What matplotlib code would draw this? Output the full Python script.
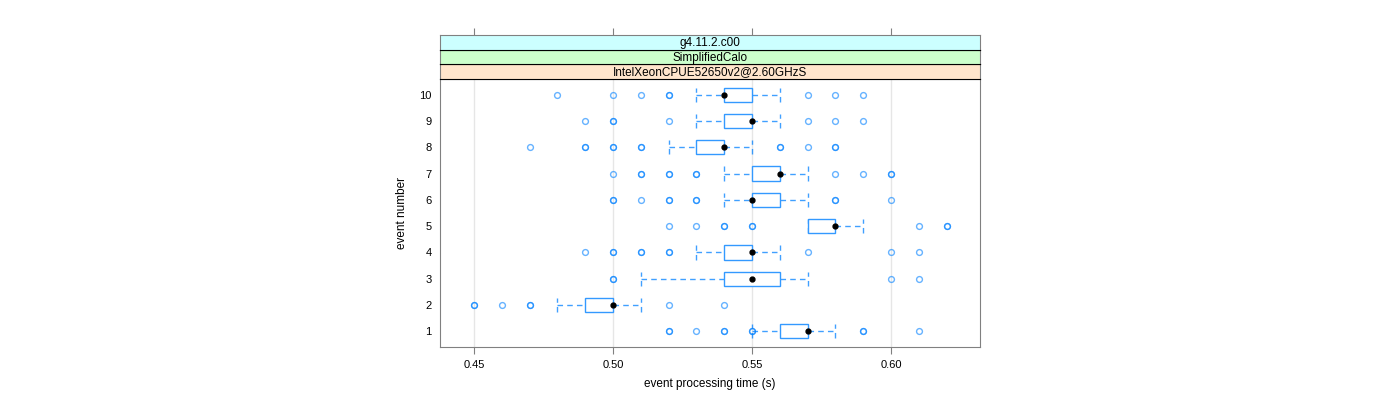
import matplotlib
matplotlib.use("Agg")
import matplotlib.pyplot as plt
from matplotlib.patches import Rectangle

plt.rcParams['font.family'] = ['Liberation Sans', 'DejaVu Sans']

events = [1, 2, 3, 4, 5, 6, 7, 8, 9, 10]
whisk_lo = [0.55, 0.48, 0.51, 0.53, 0.57, 0.54, 0.54, 0.52, 0.53, 0.53]
q1 = [0.56, 0.49, 0.54, 0.54, 0.57, 0.55, 0.55, 0.53, 0.54, 0.54]
median = [0.57, 0.50, 0.55, 0.55, 0.58, 0.55, 0.56, 0.54, 0.55, 0.54]
q3 = [0.57, 0.50, 0.56, 0.55, 0.58, 0.56, 0.56, 0.54, 0.55, 0.55]
whisk_hi = [0.58, 0.51, 0.57, 0.56, 0.59, 0.57, 0.57, 0.55, 0.56, 0.56]
# repeated values are overlapping points (drawn darker)
outliers = [
    [0.52, 0.52, 0.53, 0.54, 0.54, 0.55, 0.55, 0.59, 0.59, 0.61],
    [0.45, 0.45, 0.46, 0.47, 0.47, 0.52, 0.54],
    [0.50, 0.50, 0.60, 0.61],
    [0.49, 0.50, 0.50, 0.51, 0.51, 0.52, 0.52, 0.57, 0.60, 0.61],
    [0.52, 0.53, 0.54, 0.54, 0.55, 0.55, 0.61, 0.62, 0.62],
    [0.50, 0.50, 0.51, 0.52, 0.52, 0.53, 0.53, 0.58, 0.58, 0.60],
    [0.50, 0.51, 0.51, 0.52, 0.52, 0.53, 0.53, 0.58, 0.59, 0.60, 0.60],
    [0.47, 0.49, 0.49, 0.50, 0.50, 0.51, 0.51, 0.56, 0.56, 0.57, 0.58, 0.58],
    [0.49, 0.50, 0.50, 0.52, 0.57, 0.58, 0.59],
    [0.48, 0.50, 0.51, 0.52, 0.52, 0.57, 0.58, 0.59],
]
xticks = [0.45, 0.50, 0.55, 0.60]
strips = ['IntelXeonCPUE52650v2@2.60GHzS', 'SimplifiedCalo', 'g4.11.2.c00']
strip_cols = ['#ffe5cc', '#ccffcc', '#ccffff']

blue = '#0080ff'
frame = '#808080'

fig = plt.figure(figsize=(14, 4), dpi=100)
ax = fig.add_axes([440 / 1400, 53 / 400, 540 / 1400, 268 / 400])
ax.set_xlim(0.4378, 0.632)
ax.set_ylim(0.4, 10.6)

for x in xticks:
    ax.axvline(x, color='#e6e6e6', lw=1, zorder=0)

h = 0.27
dash = (0, (4, 3))
for i, y in enumerate(events):
    ax.plot([whisk_lo[i], q1[i]], [y, y], color=blue, lw=1, ls=dash, alpha=0.75, zorder=2)
    ax.plot([q3[i], whisk_hi[i]], [y, y], color=blue, lw=1, ls=dash, alpha=0.75, zorder=2)
    ax.plot([whisk_lo[i]] * 2, [y - h, y + h], color=blue, lw=1, ls=dash, alpha=0.75, zorder=2)
    ax.plot([whisk_hi[i]] * 2, [y - h, y + h], color=blue, lw=1, ls=dash, alpha=0.75, zorder=2)
    ax.add_patch(Rectangle((q1[i], y - h), q3[i] - q1[i], 2 * h,
                           facecolor='white', edgecolor='#3399ff', lw=1, zorder=3))
    ax.plot([median[i]], [y], 'o', color='black', ms=3.5, zorder=4)
    ax.plot(outliers[i], [y] * len(outliers[i]), 'o', mfc='none', mec=blue,
            mew=1, ms=4.2, alpha=0.6, ls='none', zorder=3)

ax.set_yticks(events)
ax.set_yticklabels([str(e) for e in events])
ax.set_xticks(xticks)
ax.set_xticklabels(['%.2f' % x for x in xticks])
ax.tick_params(axis='y', length=0, pad=6, labelsize=8)
ax.tick_params(axis='x', length=5, color=frame, pad=4, labelsize=8)
for s in ax.spines.values():
    s.set_color(frame)
ax.set_xlabel('event processing time (s)', fontsize=8.5, labelpad=6)
ax.set_ylabel('event number', fontsize=8.5, labelpad=8)

sh = 44 / 3 / 400
for k, (txt, col) in enumerate(zip(strips, strip_cols)):
    sax = fig.add_axes([440 / 1400, 321 / 400 + k * sh, 540 / 1400, sh])
    sax.set_facecolor(col)
    sax.set_xlim(ax.get_xlim())
    sax.set_yticks([])
    for s in sax.spines.values():
        s.set_color('black')
        s.set_linewidth(0.8)
    sax.spines['left'].set_color(frame)
    sax.spines['right'].set_color(frame)
    if k == 2:
        sax.spines['top'].set_color(frame)
        sax.set_xticks(xticks)
        sax.tick_params(axis='x', bottom=False, top=True, labelbottom=False,
                        length=5, color=frame)
    else:
        sax.set_xticks([])
    sax.text(0.5, 0.45, txt, transform=sax.transAxes, ha='center', va='center',
             fontsize=8.5)

fig.savefig('out.png', dpi=100)
